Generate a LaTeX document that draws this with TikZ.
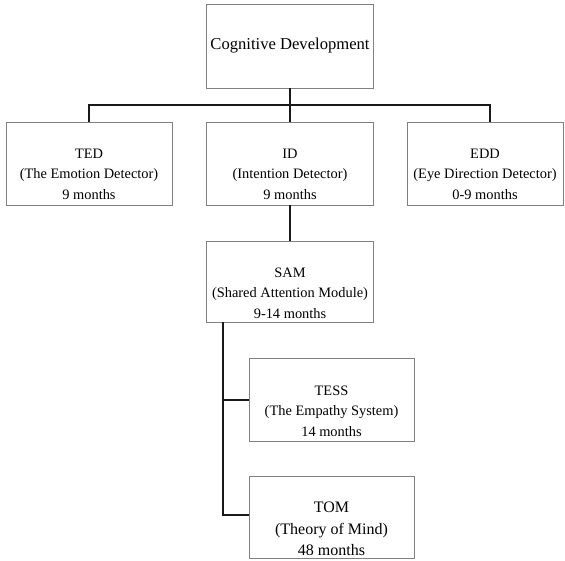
\documentclass[tikz,border=0pt]{standalone}
\usepackage{fontspec}
\setmainfont{Liberation Serif}
\definecolor{boxgray}{RGB}{128,128,128}
\definecolor{linegray}{RGB}{25,25,25}
\begin{document}
\begin{tikzpicture}[x=1pt,y=-1pt,
  box/.style={draw=boxgray, line width=0.9pt, inner sep=0pt, fill=white},
  txt/.style={align=center, font=\fontsize{14.4}{20.5}\selectfont, inner sep=0pt},
  bigtxt/.style={align=center, font=\fontsize{16}{21.5}\selectfont, inner sep=0pt},
  conn/.style={line width=1.9pt, draw=linegray}]
\useasboundingbox (0,0) rectangle (565,561);
\fill[white] (0,0) rectangle (565,561);

% boxes
\node[box, minimum width=167pt, minimum height=84pt] (cog) at (290,46) {};
\node[box, minimum width=166pt, minimum height=83pt] (ted) at (89,163.5) {};
\node[box, minimum width=167pt, minimum height=83pt] (id) at (290,163.5) {};
\node[box, minimum width=156pt, minimum height=83pt] (edd) at (485,163.5) {};
\node[box, minimum width=167pt, minimum height=81pt] (sam) at (290,281.5) {};
\node[box, minimum width=165pt, minimum height=83pt] (tess) at (331.5,400) {};
\node[box, minimum width=165pt, minimum height=82pt] (tom) at (331.5,517) {};

% texts
\node[txt, font=\fontsize{16.6}{20}\selectfont] (cogt) at (290,46) {Cognitive Development};
\node[txt] (tedt) at (89,174) {TED\\(The Emotion Detector)\\9 months};
\node[txt] (idt) at (290,174) {ID\\(Intention Detector)\\9 months};
\node[txt] (eddt) at (485,174) {EDD\\(Eye Direction Detector)\\0-9 months};
\node[txt] (samt) at (290,293) {SAM\\(Shared Attention Module)\\9-14 months};
\node[txt] (tesst) at (331.5,411) {TESS\\(The Empathy System)\\14 months};
\node[bigtxt] (tomt) at (331.5,529) {TOM\\(Theory of Mind)\\48 months};

% connectors
\coordinate (bus) at (290,105);
\coordinate (busL) at (ted.north |- bus);
\coordinate (eddtop) at ([xshift=5pt]edd.north);
\coordinate (busR) at (eddtop |- bus);
\draw[conn] (cog.south) -- (bus);
\draw[conn] (ted.north) -- (busL) -- (busR) -- (eddtop);
\draw[conn] (bus) -- (id.north);
\draw[conn] (id.south) -- (sam.north);
\coordinate (spine) at ([xshift=17pt]sam.south west);
\draw[conn] (spine) |- ([yshift=2pt]tom.west);
\draw[conn] (spine |- tess.west) -- (tess.west);
\end{tikzpicture}
\end{document}
